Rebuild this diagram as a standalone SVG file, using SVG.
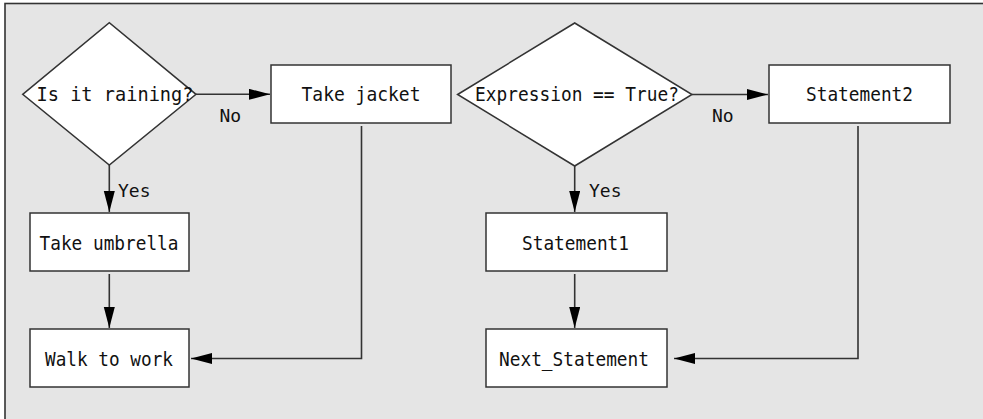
<svg xmlns="http://www.w3.org/2000/svg" width="983" height="419" viewBox="0 0 983 419">
<style>
.bg{fill:#e5e5e5;stroke:#333;stroke-width:1.6}
.n{fill:#fff;stroke:#333;stroke-width:1.5}
.t{font-family:"DejaVu Sans Mono","Liberation Mono",monospace;font-size:19.5px;fill:#111;text-anchor:middle}
.l{font-family:"DejaVu Sans Mono","Liberation Mono",monospace;font-size:18px;fill:#111}
.c{fill:none;stroke:#333;stroke-width:1.6}
</style>
<defs>
<marker id="ah" markerUnits="userSpaceOnUse" markerWidth="22" markerHeight="12" refX="21" refY="5.5" orient="auto">
<path d="M0,0 L21,5.5 L0,11 z" fill="#000"/>
</marker>
</defs>
<rect class="bg" x="5" y="3.5" width="1000" height="430"/>
<g id="connectors">
<path class="c" d="M196,94.3 H270" marker-end="url(#ah)"/>
<path class="c" d="M109.3,165 V212" marker-end="url(#ah)"/>
<path class="c" d="M109.3,274 V328" marker-end="url(#ah)"/>
<path class="c" d="M361.5,126 V358.5 H191" marker-end="url(#ah)"/>
<path class="c" d="M692,94.5 H768" marker-end="url(#ah)"/>
<path class="c" d="M574.7,166 V212" marker-end="url(#ah)"/>
<path class="c" d="M574.7,274 V328" marker-end="url(#ah)"/>
<path class="c" d="M858,126 V358.5 H674" marker-end="url(#ah)"/>
<text class="l" x="219.5" y="122">No</text>
<text class="l" x="118" y="197">Yes</text>
<text class="l" x="712" y="122">No</text>
<text class="l" x="589" y="197">Yes</text>
</g>
<g id="raining">
<polygon class="n" points="22.7,94.3 109.3,22.7 196,94.3 109.3,165"/>
<text class="t" x="115" y="101" textLength="157" lengthAdjust="spacingAndGlyphs">Is it raining?</text>
</g>
<g id="jacket">
<rect class="n" x="271" y="65" width="180" height="58"/>
<text class="t" x="361" y="101" textLength="119" lengthAdjust="spacingAndGlyphs">Take jacket</text>
</g>
<g id="umbrella">
<rect class="n" x="30" y="213" width="159" height="58"/>
<text class="t" x="109" y="250" textLength="139" lengthAdjust="spacingAndGlyphs">Take umbrella</text>
</g>
<g id="walk">
<rect class="n" x="30" y="329" width="159" height="58"/>
<text class="t" x="109" y="366" textLength="128" lengthAdjust="spacingAndGlyphs">Walk to work</text>
</g>
<g id="expression">
<polygon class="n" points="457.6,94.5 574.7,23 692,94.5 574.7,166"/>
<text class="t" x="577" y="101" textLength="204" lengthAdjust="spacingAndGlyphs">Expression == True?</text>
</g>
<g id="statement2">
<rect class="n" x="769" y="65" width="181" height="58"/>
<text class="t" x="859.5" y="101" textLength="107" lengthAdjust="spacingAndGlyphs">Statement2</text>
</g>
<g id="statement1">
<rect class="n" x="486" y="213" width="181" height="58"/>
<text class="t" x="575.5" y="250" textLength="107" lengthAdjust="spacingAndGlyphs">Statement1</text>
</g>
<g id="next">
<rect class="n" x="486" y="329" width="181" height="58"/>
<text class="t" x="574" y="366" textLength="150" lengthAdjust="spacingAndGlyphs">Next_Statement</text>
</g>
</svg>
